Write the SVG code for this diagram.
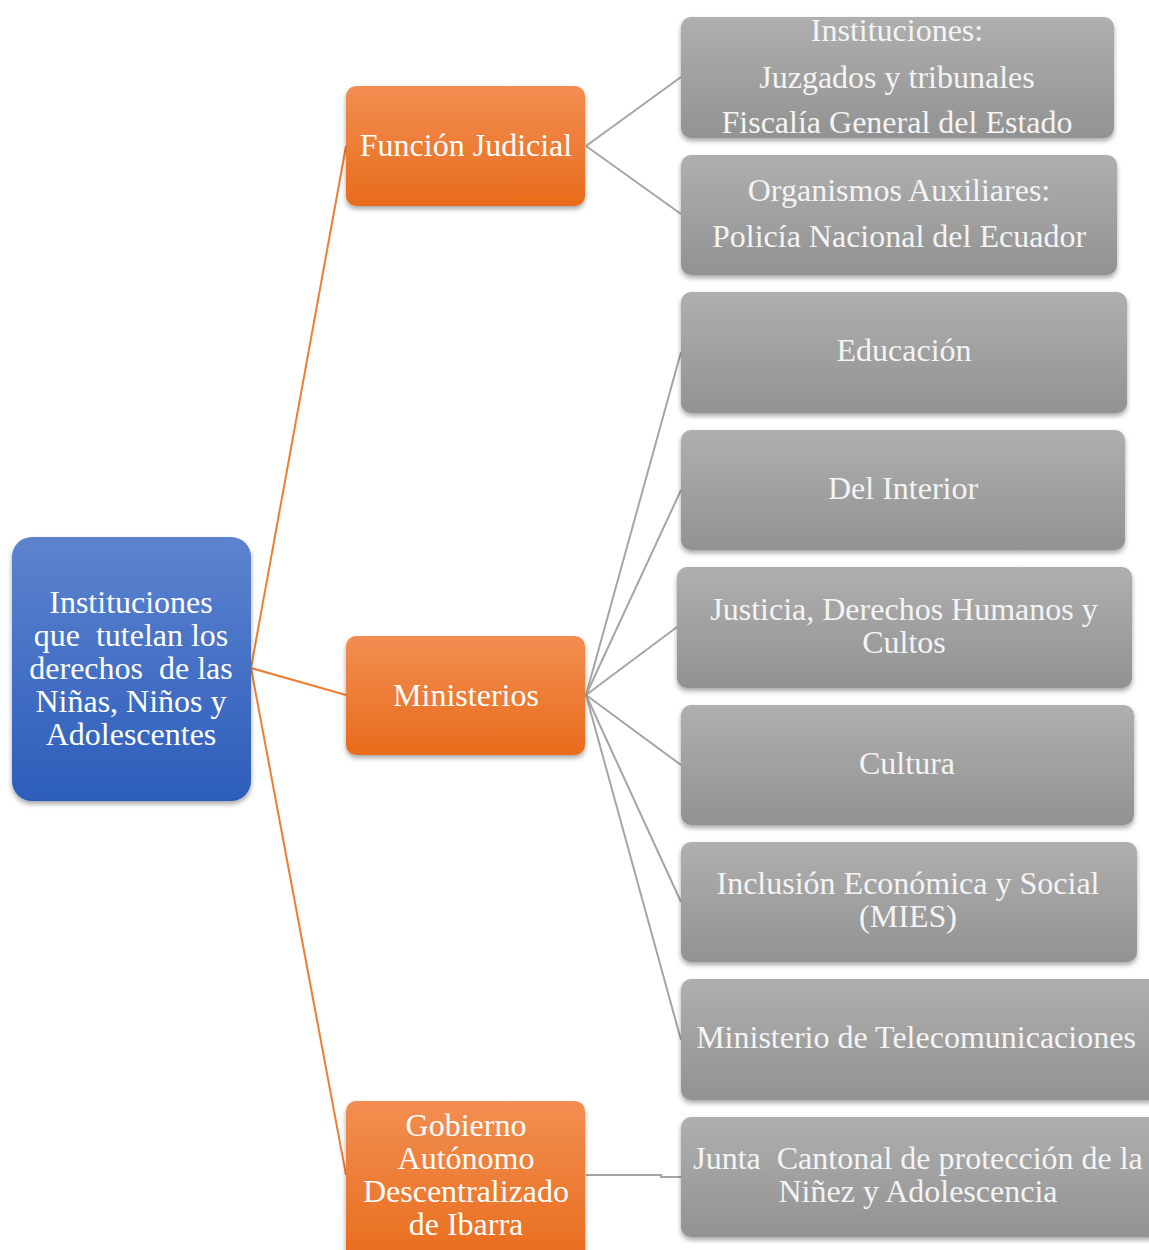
<svg xmlns="http://www.w3.org/2000/svg" width="1149" height="1250" viewBox="0 0 1149 1250">
<defs>
<linearGradient id="gBlue" x1="0" y1="0" x2="0" y2="1"><stop offset="0" stop-color="#5d83cf"/><stop offset="1" stop-color="#2c5dba"/></linearGradient>
<linearGradient id="gOrange" x1="0" y1="0" x2="0" y2="1"><stop offset="0" stop-color="#f28e52"/><stop offset="1" stop-color="#e86c1b"/></linearGradient>
<linearGradient id="gGrey" x1="0" y1="0" x2="0" y2="1"><stop offset="0" stop-color="#afafaf"/><stop offset="1" stop-color="#929292"/></linearGradient>
<filter id="sh" x="-10%" y="-10%" width="120%" height="130%"><feDropShadow dx="0" dy="3" stdDeviation="2.5" flood-color="#000" flood-opacity="0.35"/></filter>
</defs>
<style>
text{font-family:"Liberation Serif","Times New Roman",serif;font-size:32px;fill:#ffffff;text-anchor:middle;white-space:pre}
.g text{fill:#f4f4f4}
.blue{fill:url(#gBlue);filter:url(#sh)}
.orange{fill:url(#gOrange);filter:url(#sh)}
.grey{fill:url(#gGrey);filter:url(#sh)}
.co{stroke:#ed7d31;stroke-width:2;fill:none}
.cg{stroke:#a5a5a5;stroke-width:2;fill:none}
</style>
<rect width="1149" height="1250" fill="#ffffff"/>
<g id="connectors">
<line class="co" x1="251" y1="668" x2="346" y2="146"/>
<line class="co" x1="251" y1="668" x2="346" y2="695"/>
<line class="co" x1="251" y1="668" x2="346" y2="1175"/>
<line class="cg" x1="586" y1="146" x2="681" y2="77"/>
<line class="cg" x1="586" y1="146" x2="681" y2="214"/>
<line class="cg" x1="586" y1="695" x2="681" y2="352"/>
<line class="cg" x1="586" y1="695" x2="681" y2="490"/>
<line class="cg" x1="586" y1="695" x2="677" y2="627"/>
<line class="cg" x1="586" y1="695" x2="681" y2="765"/>
<line class="cg" x1="586" y1="695" x2="681" y2="902"/>
<line class="cg" x1="586" y1="695" x2="681" y2="1040"/>
<polyline class="cg" points="586,1175 661,1175 661,1177 681,1177"/>
</g>
<g id="root">
<rect class="blue" x="12" y="537" width="239" height="264" rx="20"/>
<text x="131" y="613">Instituciones</text>
<text x="131" y="646" xml:space="preserve">que  tutelan los</text>
<text x="131" y="679" xml:space="preserve">derechos  de las</text>
<text x="131" y="712">Niñas, Niños y</text>
<text x="131" y="745">Adolescentes</text>
</g>
<g id="funcion-judicial">
<rect class="orange" x="346" y="86" width="239" height="120" rx="10"/>
<text x="466" y="156">Función Judicial</text>
</g>
<g id="ministerios">
<rect class="orange" x="346" y="636" width="239" height="119" rx="10"/>
<text x="466" y="706">Ministerios</text>
</g>
<g id="gobierno">
<rect class="orange" x="346" y="1101" width="239" height="165" rx="10"/>
<text x="466" y="1136">Gobierno</text>
<text x="466" y="1169">Autónomo</text>
<text x="466" y="1202">Descentralizado</text>
<text x="466" y="1235">de Ibarra</text>
</g>
<g class="g">
<g id="instituciones">
<rect class="grey" x="681" y="17" width="433" height="121" rx="10"/>
<text x="897" y="41">Instituciones:</text>
<text x="897" y="88">Juzgados y tribunales</text>
<text x="897" y="133">Fiscalía General del Estado</text>
</g>
<g id="organismos">
<rect class="grey" x="681" y="155" width="436" height="120" rx="10"/>
<text x="899" y="201">Organismos Auxiliares:</text>
<text x="899" y="247">Policía Nacional del Ecuador</text>
</g>
<g id="educacion">
<rect class="grey" x="681" y="292" width="446" height="121" rx="10"/>
<text x="904" y="361">Educación</text>
</g>
<g id="interior">
<rect class="grey" x="681" y="430" width="444" height="120" rx="10"/>
<text x="903" y="499">Del Interior</text>
</g>
<g id="justicia">
<rect class="grey" x="677" y="567" width="455" height="121" rx="10"/>
<text x="904" y="620">Justicia, Derechos Humanos y</text>
<text x="904" y="653">Cultos</text>
</g>
<g id="cultura">
<rect class="grey" x="681" y="705" width="453" height="120" rx="10"/>
<text x="907" y="774">Cultura</text>
</g>
<g id="mies">
<rect class="grey" x="681" y="842" width="456" height="120" rx="10"/>
<text x="908" y="894">Inclusión Económica y Social</text>
<text x="908" y="927">(MIES)</text>
</g>
<g id="telecom">
<rect class="grey" x="681" y="979" width="490" height="121" rx="10"/>
<text x="916" y="1048">Ministerio de Telecomunicaciones</text>
</g>
<g id="junta">
<rect class="grey" x="681" y="1117" width="490" height="120" rx="10"/>
<text x="918" y="1169" xml:space="preserve">Junta  Cantonal de protección de la</text>
<text x="918" y="1202">Niñez y Adolescencia</text>
</g>
</g>
</svg>
